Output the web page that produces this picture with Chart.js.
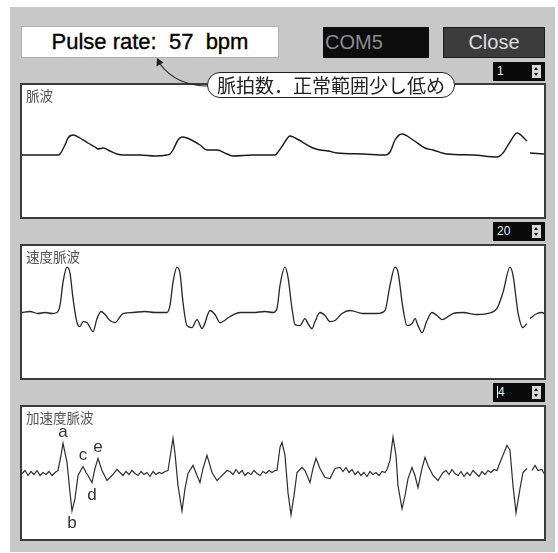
<!DOCTYPE html>
<html><head><meta charset="utf-8">
<script src="https://cdn.jsdelivr.net/npm/chart.js@4/dist/chart.umd.min.js"></script>
<style>
html,body{margin:0;padding:0;background:#fff;}
#root{position:relative;width:558px;height:553px;overflow:hidden;background:#fff;font-family:"Liberation Sans",Arial,sans-serif;}
#bg{position:absolute;left:10px;top:7px;width:545px;height:545px;background:#c8c8c8;}
.abs{position:absolute;box-sizing:border-box;}
#pulsebox{left:21px;top:26px;width:258px;height:32px;background:#fff;border:1px solid #b0b0b0;font-size:22px;color:#000;text-align:center;line-height:30px;white-space:pre;-webkit-text-stroke:0.35px #000;}
#com{left:323px;top:27px;width:106px;height:31px;background:#0c0c0c;color:#8c8c8c;font-size:20px;line-height:31px;padding-left:2px;}
#close{left:443px;top:27px;width:102px;height:31px;background:#3b3b3b;border:1px solid #1c1c1c;color:#dedede;font-size:20px;line-height:29px;text-align:center;}
.panel{position:absolute;left:20px;width:526px;height:136px;border:2px solid #3c3c3c;background:#fff;box-sizing:border-box;}
.panel canvas{position:absolute;left:0;top:0;}
.ptitle{position:absolute;left:4px;top:2px;font-family:"Noto Sans CJK JP",sans-serif;font-size:13.5px;color:#555;line-height:16px;z-index:2;}
.spin{position:absolute;left:493px;width:52px;height:19px;background:#0a0a0a;color:#f0f0f0;font-size:12px;line-height:19px;box-sizing:border-box;padding-left:4px;}
.spin .arr{position:absolute;right:4px;top:3px;width:9px;height:13px;background:#d8d8d8;}
.spin .up{position:absolute;left:2px;top:2px;width:0;height:0;border-left:2.5px solid transparent;border-right:2.5px solid transparent;border-bottom:3px solid #111;}
.spin .dn{position:absolute;left:2px;top:8px;width:0;height:0;border-left:2.5px solid transparent;border-right:2.5px solid transparent;border-top:3px solid #111;}
.spin .caret{display:inline-block;width:1px;height:12px;background:#fff;vertical-align:-2px;margin-right:0px;}
#bubble{left:207px;top:72px;width:248px;height:26px;background:#fff;border:1px solid #222;border-radius:13px;font-family:"Noto Sans CJK JP",sans-serif;font-size:19px;line-height:24px;text-align:center;color:#222;z-index:5;}
#arrow{position:absolute;left:0;top:0;z-index:6;}
</style></head>
<body><div id="root">
<div id="bg"></div>
<div class="abs" id="pulsebox">Pulse rate:  57  bpm</div>
<div class="abs" id="com">COM5</div>
<div class="abs" id="close">Close</div>

<div class="spin" style="top:62px">1<div class="arr"><div class="up"></div><div class="dn"></div></div></div>
<div class="spin" style="top:222px">20<div class="arr"><div class="up"></div><div class="dn"></div></div></div>
<div class="spin" style="top:383px"><span class="caret"></span>4<div class="arr"><div class="up"></div><div class="dn"></div></div></div>

<div class="panel" style="top:83px"><div class="ptitle">脈波</div><canvas id="c1" width="522" height="132"></canvas></div>
<div class="panel" style="top:244px"><div class="ptitle">速度脈波</div><canvas id="c2" width="522" height="132"></canvas></div>
<div class="panel" style="top:405px"><div class="ptitle">加速度脈波</div><canvas id="c3" width="522" height="132"></canvas></div>

<div class="abs" id="bubble">脈拍数．正常範囲少し低め</div>
<svg id="arrow" width="558" height="553">
  <path d="M208 86 C 190 86, 172 80, 160 64" fill="none" stroke="#222" stroke-width="1.2"/>
  <path d="M157 58 L 156.5 66.5 L 163.5 62.5 Z" fill="#222"/>
</svg>
</div>
<script>
// ---- 脈波 (pulse wave): sample index and amplitude ----
const pulseT = [0,18,33,36,38,43,46,51,58,66,73,76,81,86,95,101,118,133,145,148,151,156,160,165,178,185,195,205,211,231,245,253,256,261,268,275,291,298,306,315,341,363,368,373,380,391,403,411,425,451,475,481,488,495,505,507,508,522];
const pulseV = [0,0,0,0,1,10,17,20,17,12,8,6,7,5,1,0,0,-1,0,1,5,15,18,17,10,5,5,1,-1,0,0,0,3,10,19,16,7,5,4,2,1,0,3,15,21,15,7,5,1,0,-2,2,13,22,14,null,2,1];

// ---- 速度脈波 (velocity pulse wave) ----
const velT = [0,8,16,23,30,35,38,41,45,48,51,55,58,61,65,67,71,75,79,83,88,93,101,111,123,133,145,148,151,155,158,161,165,170,175,180,182,188,193,198,208,218,231,243,251,255,258,263,266,270,273,278,283,286,290,293,298,303,308,313,320,328,341,355,363,368,373,376,381,385,390,393,396,400,405,410,415,420,431,441,455,465,475,481,488,491,496,501,505,507,508,515,520,522];
const velV = [0,1,-1,0,-1,0,7,30,45,39,14,-10,-14,-9,-10,-13,-19,-6,1,-2,-8,-10,-1,0,1,0,0,7,30,45,39,10,-13,-15,-7,-16,-13,2,-2,-10,-4,0,0,1,0,4,27,45,35,4,-12,-13,-6,-11,-16,-9,0,-3,-9,-8,-1,2,-1,-1,2,27,45,40,4,-13,-11,-6,-13,-20,-8,0,-3,-7,-1,0,-2,-1,4,20,45,37,0,-15,-11,null,-6,-1,0,-1];

// ---- 加速度脈波 (acceleration pulse wave) ----
const accT = [0,3,6,9,12,15,18,21,24,27,30,33,36,39,41,45,48,50,53,56,61,64,66,70,73,76,80,85,90,95,98,101,104,107,110,113,116,119,122,125,128,131,134,137,140,143,146,151,153,156,160,163,166,171,175,178,181,185,190,195,205,208,211,214,217,220,223,226,229,232,235,238,241,244,247,250,253,255,258,260,263,266,269,272,275,280,283,288,291,294,298,303,308,313,318,321,324,327,330,333,336,339,342,345,348,351,354,357,360,363,365,368,371,374,376,380,383,386,390,393,396,400,403,406,411,416,421,424,427,430,433,436,439,442,445,448,451,454,457,460,463,466,469,472,475,478,485,488,491,494,498,501,505,507,510,513,516,520,522];
const accV = [0,3,-2,2,-1,3,-2,1,-1,2,-2,1,3,18,30,11,-19,-37,-25,-2,7,1,-2,-9,5,15,3,-7,-2,4,1,-2,2,-1,3,0,-2,2,-1,1,-3,2,-1,1,0,2,3,35,20,-12,-37,-15,0,8,-2,-9,5,18,1,-7,3,2,-1,4,0,3,-2,1,-1,3,0,-2,2,0,3,1,3,3,26,31,18,-19,-41,-22,1,6,3,-9,5,15,5,-4,-5,5,6,2,6,1,4,-1,2,-2,1,-3,2,-1,1,-2,2,1,4,13,36,18,-12,-35,-22,-5,6,-2,-14,5,16,8,-2,-7,1,3,-1,4,0,-2,2,-3,1,-2,3,0,-3,2,-1,3,1,4,3,11,28,23,-12,-39,-15,1,5,null,3,8,3,4,0];

// labels on the acceleration wave
const waveLabels = ['a','b','c','d','e'];
const waveLabelT = [41,50,61,70,76];
const waveLabelSide = [-1,1,-1,1,-1];

function pts(T,V){return T.map((t,i)=>({x:t,y:V[i]}));}

const labelPlugin = {
  id:'waveLabels',
  afterDatasetsDraw(chart){
    if(!chart.options.plugins.waveLabels || !chart.options.plugins.waveLabels.on) return;
    const ctx = chart.ctx, xs = chart.scales.x, ys = chart.scales.y;
    ctx.save();
    ctx.font = '17px "Liberation Sans", Arial, sans-serif';
    ctx.fillStyle = '#333';
    ctx.textAlign = 'center';
    ctx.textBaseline = 'middle';
    waveLabels.forEach((s,i)=>{
      const t = waveLabelT[i];
      const v = accV[accT.indexOf(t)];
      const px = xs.getPixelForValue(t);
      const py = ys.getPixelForValue(v) + waveLabelSide[i]*(waveLabelSide[i]<0?11:13);
      ctx.fillText(s, px, py);
    });
    ctx.restore();
  }
};

function makeChart(id, data, ymin, ymax, color, width, labels, smooth){
  new Chart(document.getElementById(id), {
    type:'line',
    data:{datasets:[{data:data, borderColor:color, borderWidth:width, pointRadius:0, tension:smooth?0.4:0, cubicInterpolationMode:smooth?'monotone':'default', spanGaps:false, fill:false}]},
    options:{
      responsive:false, animation:false, events:[],
      layout:{padding:0},
      plugins:{legend:{display:false}, tooltip:{enabled:false}, waveLabels:{on:!!labels}},
      scales:{
        x:{type:'linear', min:0, max:522, display:false},
        y:{min:ymin, max:ymax, display:false}
      }
    },
    plugins:[labelPlugin]
  });
}
makeChart('c1', pts(pulseT,pulseV), -62, 70, '#1a1a1a', 1.4, false, true);
makeChart('c2', pts(velT,velV), -65, 66, '#262626', 1.3, false, true);
makeChart('c3', pts(accT,accV), -65, 66, '#2e2e2e', 1.2, true, false);
</script>
</body></html>
